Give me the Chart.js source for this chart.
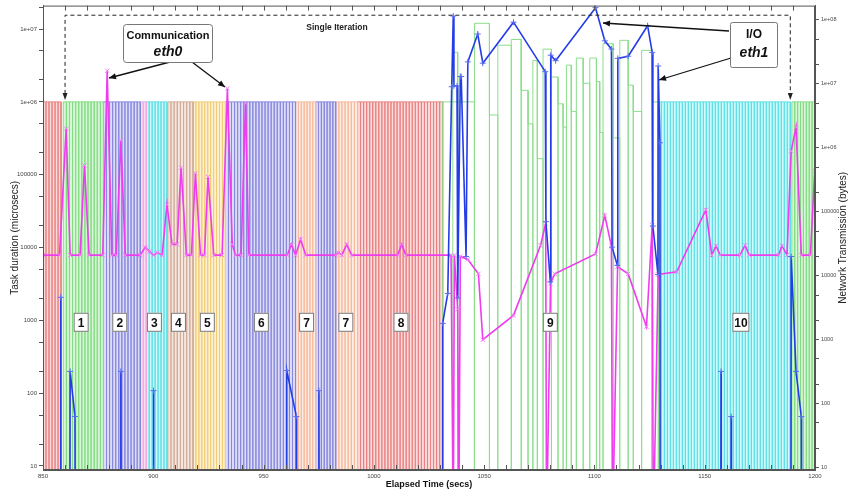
<!DOCTYPE html>
<html>
<head>
<meta charset="utf-8">
<script src="https://cdn.jsdelivr.net/npm/chart.js@4.4.1/dist/chart.umd.min.js"></script>
<style>
html, body { margin: 0; padding: 0; background: #fff; }
</style>
</head>
<body>
<canvas id="myChart" width="849" height="490"></canvas>
<script>
// --- data ---

// regular (non I/O) phases: time span (secs) and number of tasks in it
var phaseStart = [850, 859.2, 877.4, 894.1, 896.8, 906.6, 918, 932.7, 964.5, 973.6, 982.7, 992.6, 1129, 1189.5];
var phaseEnd   = [858.2, 877.4, 894.1, 896.8, 906.2, 918, 932.7, 964.5, 973.6, 982.7, 992.6, 1031.2, 1188.8, 1200];
var phaseTasks = [6, 13, 12, 2, 7, 8, 11, 23, 7, 7, 7, 28, 44, 8];
var phaseKind  = ['red', 'green', 'blue', 'pink', 'cyan', 'tan', 'orange', 'blue', 'peach', 'blue', 'peach', 'red', 'cyan', 'green'];
var taskDuration = 1e6; // microsecs

// I/O phase tasks (secs) and their duration (microsecs)
var ioStart = [1031.2, 1035.8, 1045.6, 1052.4, 1056.2, 1062.3, 1066.8, 1069.9, 1072.1, 1074.1, 1076.7, 1080.5, 1083.5, 1085.8,
               1087.3, 1089.5, 1091.8, 1094.9, 1097.9, 1100.9, 1102.4, 1103.9, 1108.5, 1111.5, 1115.3, 1117.6, 1121.4, 1126.0];
var ioEnd   = [1045.6, 1038.0, 1052.4, 1056.2, 1062.3, 1066.8, 1069.9, 1072.1, 1074.1, 1076.7, 1080.5, 1083.5, 1085.8, 1087.3,
               1089.5, 1091.8, 1094.9, 1097.9, 1100.9, 1102.4, 1103.9, 1108.5, 1111.5, 1115.3, 1117.6, 1121.4, 1126.0, 1129.0];
var ioDuration = [1e6, 4.8e6, 1.2e7, 6.6e5, 6e6, 7.2e6, 1.44e6, 5e5, 3.7e6, 1.66e5, 5.3e6, 2.2e6, 9.4e5, 4.5e5,
                  3.2e6, 7.4e5, 4e6, 1.8e6, 4e6, 1.9e6, 3.8e5, 6.3e6, 3.2e5, 7e6, 1.7e6, 7.4e5, 5.1e6, 1e6];

// network traffic, bytes (1 = nothing sent, below the axis)
var eth0Time = [850, 857.5, 860.5, 862.3, 866.8, 868.8, 870.9, 877.1, 879.1, 881.2, 883.2, 885.3, 887.3, 894.1,
                896.4, 898.2, 900.1, 902, 904, 906.2, 908.5, 910.8, 912.6, 915, 917.3, 919.1, 921.4, 923.2,
                924.8, 927.4, 931.2, 933.6, 935.8, 937.3, 939.8, 941.8, 943.3, 960.8, 962.6, 964.5, 966.8, 969.1,
                982.7, 984, 985.5, 987.7, 989.9, 1010.8, 1012.6, 1014.5, 1035.0, 1036.0, 1036.5, 1038.0, 1038.5, 1039.2,
                1042.6, 1047.4, 1049.4, 1063.3, 1075.6, 1077.9, 1078.3, 1080.1, 1082.0, 1100.5, 1104.7, 1107.7, 1108.2,
                1110.5, 1115.3, 1123.6, 1126.2, 1126.7, 1128.9, 1137.3, 1150.5, 1153.2, 1155.1, 1157.0, 1166.0, 1168.3,
                1170.1, 1183.5, 1185.0, 1187.3, 1189.2, 1191.4, 1193.8, 1197.9, 1199.9, 1201];
var eth0Bytes = [2.1e4, 2.1e4, 2.0e6, 2.1e4, 2.1e4, 5.3e5, 2.1e4, 2.1e4, 1.6e7, 2.1e4, 2.1e4, 1.3e6, 2.1e4, 2.1e4,
                 2.8e4, 2.4e4, 2.1e4, 2.3e4, 2.1e4, 1.3e5, 3.1e4, 3.1e4, 4.9e5, 2.1e4, 2.1e4, 4e5, 2.1e4, 2.1e4,
                 3.5e5, 2.1e4, 2.1e4, 8.5e6, 3.1e4, 2.1e4, 2.1e4, 5e6, 2.1e4, 2.1e4, 3.1e4, 2.1e4, 3.7e4, 2.1e4,
                 2.1e4, 2.3e4, 2.1e4, 3.1e4, 2.1e4, 2.1e4, 3.1e4, 2.1e4, 2.1e4, 1, 2.1e4, 3e3, 1, 2e4,
                 1.8e4, 1.07e4, 1e3, 2.4e3, 3e4, 6.6e4, 1, 7.6e3, 1.07e4, 2.2e4, 8.7e4, 2.9e4, 1,
                 1.38e4, 1.07e4, 1.6e3, 6.2e4, 1, 1.05e4, 1.15e4, 1.07e5, 2.1e4, 2.95e4, 2.1e4, 2.1e4, 3e4,
                 2.1e4, 2.1e4, 2.95e4, 2.1e4, 8.9e5, 2.1e6, 2.1e4, 2.1e4, 4.4e5, 7.8e4];

var eth1Time = [850, 857.9, 858, 858.1, 862.2, 862.3, 864.5, 864.6, 885.2, 885.3, 885.4, 900.0, 900.1, 900.2,
                960.4, 960.5, 964.9, 965.0, 975.0, 975.1, 975.2, 1031.1, 1031.2, 1033.5, 1035.3, 1036.0, 1036.3,
                1037.7, 1038.0, 1039.2, 1039.6, 1041.8, 1042.6, 1047.1, 1049.4, 1063.3, 1077.7, 1078.0, 1080.0,
                1080.2, 1082.4, 1100.5, 1104.7, 1107.7, 1108.0, 1110.4, 1110.6, 1115.3, 1124.1, 1126.2, 1126.5,
                1128.8, 1128.9, 1129.7, 1129.8, 1157.3, 1157.4, 1157.5, 1161.9, 1162, 1162.1, 1189.1, 1189.2,
                1191.4, 1193.8, 1193.9, 1200];
var eth1Bytes = [1, 1, 4600, 1, 1, 320, 63, 1, 1, 320, 1, 1, 160, 1,
                 1, 330, 63, 1, 1, 160, 1, 1, 1800, 5300, 9e6, 1.15e8, 9.3e6,
                 9.3e6, 4.5e3, 1.3e7, 1.3e7, 2e4, 2.2e7, 6e7, 2.1e7, 9.2e7, 1.55e7, 7e4, 8e3,
                 2.8e7, 2.3e7, 1.55e8, 4.7e7, 3.5e7, 2.8e4, 1.45e4, 2.5e7, 2.7e7, 8.1e7, 3.1e7, 6e4,
                 1.05e4, 1.9e7, 1.2e6, 1, 1, 320, 1, 1, 63, 1, 1, 2e4,
                 320, 63, 1, 1];

var leftTickValues  = [10, 20, 50, 100, 200, 500, 1e3, 2e3, 5e3, 1e4, 2e4, 5e4, 1e5, 2e5, 5e5, 1e6, 2e6, 5e6, 1e7, 2e7];
var rightTickValues = [10, 20, 50, 100, 200, 500, 1e3, 2e3, 5e3, 1e4, 2e4, 5e4, 1e5, 2e5, 5e5, 1e6, 2e6, 5e6, 1e7, 2e7, 5e7, 1e8];
var phaseLabels = ['1', '2', '3', '4', '5', '6', '7', '7', '8', '9', '10'];

// --- styles / annotation placement ---
var kindColors = {
    red:    ['rgb(232,130,130)', 'rgb(250,218,218)'],
    green:  ['rgb(130,220,130)', 'rgb(216,246,216)'],
    blue:   ['rgb(135,135,222)', 'rgb(220,220,247)'],
    pink:   ['rgb(240,170,225)', 'rgb(251,222,244)'],
    cyan:   ['rgb(95,222,230)',  'rgb(205,250,250)'],
    tan:    ['rgb(210,172,152)', 'rgb(243,231,223)'],
    orange: ['rgb(242,205,120)', 'rgb(253,241,212)'],
    peach:  ['rgb(246,186,158)', 'rgb(253,236,227)']
};
var labelBoxTimes = [867.3, 884.8, 900.5, 911.4, 924.5, 949, 969.5, 987.3, 1012.3, 1080, 1166.4];
var FLOOR = 1;

function rectPath(starts, ends, heights) {
    var pts = [];
    for (var i = 0; i < starts.length; i++) {
        pts.push({x: starts[i], y: FLOOR}, {x: starts[i], y: heights[i]},
                 {x: ends[i], y: heights[i]}, {x: ends[i], y: FLOOR});
    }
    return pts;
}

var datasets = [];
datasets.push({
    label: 'eth1', yAxisID: 'y2', order: 0,
    data: eth1Time.map(function (t, i) { return {x: t, y: eth1Bytes[i]}; }),
    borderColor: 'rgb(35,60,230)', borderWidth: 1.6,
    pointStyle: 'cross', pointRadius: 3, pointBorderColor: 'rgb(90,110,240)', pointBorderWidth: 1
});
datasets.push({
    label: 'eth0', yAxisID: 'y2', order: 1,
    data: eth0Time.map(function (t, i) { return {x: t, y: eth0Bytes[i]}; }),
    borderColor: 'rgb(238,60,238)', borderWidth: 1.6,
    pointStyle: 'crossRot', pointRadius: 3, pointBorderColor: 'rgb(245,130,245)', pointBorderWidth: 1
});
datasets.push({
    label: 'io tasks', yAxisID: 'y', order: 2,
    data: rectPath(ioStart, ioEnd, ioDuration),
    borderColor: 'rgb(140,222,140)', borderWidth: 1, pointRadius: 0, fill: false
});
phaseStart.forEach(function (s, p) {
    var st = [], en = [], hs = [];
    var step = (phaseEnd[p] - s) / phaseTasks[p];
    for (var k = 0; k < phaseTasks[p]; k++) {
        st.push(s + k * step); en.push(s + (k + 1) * step); hs.push(taskDuration);
    }
    var c = kindColors[phaseKind[p]];
    datasets.push({
        label: 'phase ' + p, yAxisID: 'y', order: 3,
        data: rectPath(st, en, hs),
        borderColor: c[0], backgroundColor: c[1], borderWidth: 1,
        pointRadius: 0, fill: 'start'
    });
});

function decadeLabel(v) {
    var e = Math.round(Math.log10(v));
    if (Math.abs(v - Math.pow(10, e)) > 1e-6 * v) return '';
    return v >= 1e6 ? '1e+0' + e : String(v);
}

function arrow(ctx, x1, y1, x2, y2) {
    ctx.beginPath(); ctx.moveTo(x1, y1); ctx.lineTo(x2, y2); ctx.stroke();
    var a = Math.atan2(y2 - y1, x2 - x1), L = 7, W = 3;
    ctx.beginPath();
    ctx.moveTo(x2, y2);
    ctx.lineTo(x2 - L * Math.cos(a) + W * Math.sin(a), y2 - L * Math.sin(a) - W * Math.cos(a));
    ctx.lineTo(x2 - L * Math.cos(a) - W * Math.sin(a), y2 - L * Math.sin(a) + W * Math.cos(a));
    ctx.closePath(); ctx.fill();
}

function roundBox(ctx, x, y, w, h, r) {
    ctx.beginPath();
    ctx.moveTo(x + r, y); ctx.lineTo(x + w - r, y); ctx.quadraticCurveTo(x + w, y, x + w, y + r);
    ctx.lineTo(x + w, y + h - r); ctx.quadraticCurveTo(x + w, y + h, x + w - r, y + h);
    ctx.lineTo(x + r, y + h); ctx.quadraticCurveTo(x, y + h, x, y + h - r);
    ctx.lineTo(x, y + r); ctx.quadraticCurveTo(x, y, x + r, y);
    ctx.closePath();
}

var annot = {
    id: 'annot',
    afterDraw: function (chart) {
        var ctx = chart.ctx, a = chart.chartArea, x = chart.scales.x, y = chart.scales.y;
        ctx.save();
        // frame + inward time ticks
        ctx.strokeStyle = '#555'; ctx.lineWidth = 1;
        ctx.strokeRect(a.left + 0.5, a.top + 0.5, a.right - a.left - 1, a.bottom - a.top - 1);
        x.ticks.forEach(function (t) {
            var px = Math.round(x.getPixelForValue(t.value)) + 0.5;
            ctx.beginPath();
            ctx.moveTo(px, a.bottom); ctx.lineTo(px, a.bottom - 5);
            ctx.moveTo(px, a.top); ctx.lineTo(px, a.top + 5);
            ctx.stroke();
        });

        // single iteration bracket
        var xl = x.getPixelForValue(860), xr = x.getPixelForValue(1188.8);
        var yt = y.getPixelForValue(1.55e7), yb = y.getPixelForValue(1e6) - 2;
        ctx.strokeStyle = '#222'; ctx.fillStyle = '#222'; ctx.lineWidth = 1;
        ctx.setLineDash([4, 3]);
        ctx.beginPath();
        ctx.moveTo(xl, yb - 6); ctx.lineTo(xl, yt); ctx.lineTo(xr, yt); ctx.lineTo(xr, yb - 6);
        ctx.stroke();
        ctx.setLineDash([]);
        [xl, xr].forEach(function (px) {
            ctx.beginPath(); ctx.moveTo(px, yb); ctx.lineTo(px - 2.5, yb - 7); ctx.lineTo(px + 2.5, yb - 7);
            ctx.closePath(); ctx.fill();
        });
        ctx.font = 'bold 8.5px "Liberation Sans", Arial, sans-serif';
        ctx.textAlign = 'center'; ctx.textBaseline = 'middle';
        ctx.fillText('Single Iteration', 337, 28);

        // phase number boxes
        ctx.font = 'bold 12px "Liberation Sans", Arial, sans-serif';
        labelBoxTimes.forEach(function (t, i) {
            var cx = x.getPixelForValue(t), cy = y.getPixelForValue(940);
            var w = phaseLabels[i].length > 1 ? 17 : 15, h = 19;
            ctx.fillStyle = '#fff'; ctx.strokeStyle = '#777';
            ctx.fillRect(cx - w / 2, cy - h / 2, w, h);
            ctx.strokeRect(cx - w / 2 + 0.5, cy - h / 2 + 0.5, w - 1, h - 1);
            ctx.fillStyle = '#111';
            ctx.fillText(phaseLabels[i], cx, cy + 1);
        });

        // callouts
        ctx.strokeStyle = '#111'; ctx.fillStyle = '#111'; ctx.lineWidth = 1.3;
        arrow(ctx, 170, 62, 109, 78);
        arrow(ctx, 192, 62, 225, 87);
        arrow(ctx, 729, 31, 603, 23);
        arrow(ctx, 731, 58, 659, 80);

        ctx.lineWidth = 1; ctx.strokeStyle = '#777'; ctx.fillStyle = '#fff';
        roundBox(ctx, 123.5, 24.5, 89, 38, 3); ctx.fill(); ctx.stroke();
        roundBox(ctx, 730.5, 22.5, 47, 45, 2); ctx.fill(); ctx.stroke();
        ctx.fillStyle = '#111';
        ctx.font = 'bold 11px "Liberation Sans", Arial, sans-serif';
        ctx.fillText('Communication', 168, 36);
        ctx.font = 'bold 12px "Liberation Sans", Arial, sans-serif';
        ctx.fillText('I/O', 754, 35);
        ctx.font = 'italic bold 14px "Liberation Sans", Arial, sans-serif';
        ctx.fillText('eth0', 168, 52);
        ctx.fillText('eth1', 754, 53);

        // right axis title (reads bottom to top)
        ctx.save();
        ctx.translate(843, (a.top + a.bottom) / 2);
        ctx.rotate(-Math.PI / 2);
        ctx.font = '10px "Liberation Sans", Arial, sans-serif';
        ctx.fillStyle = '#222';
        ctx.fillText('Network Transmission (bytes)', 0, 0);
        ctx.restore();
        ctx.restore();
    }
};

var leftFont = {size: 6, family: '"Liberation Sans", Arial, sans-serif'};
var rightFont = {size: 5.5, family: '"Liberation Sans", Arial, sans-serif'};
var ctx = document.getElementById('myChart').getContext('2d');
var myChart = new Chart(ctx, {
    type: 'line',
    data: {datasets: datasets},
    options: {
        responsive: false, animation: false, devicePixelRatio: 1,
        layout: {padding: {top: 5, left: 0, right: 0, bottom: 0}},
        elements: {line: {tension: 0}},
        plugins: {legend: {display: false}, tooltip: {enabled: false}},
        scales: {
            x: {
                type: 'linear', position: 'bottom', min: 850, max: 1200,
                ticks: {
                    stepSize: 10, autoSkip: false, maxRotation: 0, font: leftFont, color: '#444', padding: 3,
                    callback: function (v) { return v % 50 === 0 ? v : ''; }
                },
                grid: {drawOnChartArea: false, drawTicks: false},
                border: {color: '#555'},
                title: {display: true, text: 'Elapsed Time (secs)', color: '#111',
                        font: {size: 9, weight: 'bold', family: '"Liberation Sans", Arial, sans-serif'},
                        padding: {top: 0, bottom: 0}},
                afterFit: function (s) { s.height = 20; }
            },
            y: {
                type: 'logarithmic', position: 'left', min: 8.8, max: 2.1e7,
                afterBuildTicks: function (s) { s.ticks = leftTickValues.map(function (v) { return {value: v}; }); },
                ticks: {autoSkip: false, font: leftFont, color: '#444', padding: 2, callback: decadeLabel},
                grid: {drawOnChartArea: false, tickLength: 4, color: '#555'},
                border: {color: '#555'},
                title: {display: true, text: 'Task duration (microsecs)', color: '#222',
                        font: {size: 10, family: '"Liberation Sans", Arial, sans-serif'},
                        padding: {top: 9, bottom: 0}},
                afterFit: function (s) { s.width = 43; }
            },
            y2: {
                type: 'logarithmic', position: 'right', min: 9.2, max: 1.67e8,
                afterBuildTicks: function (s) { s.ticks = rightTickValues.map(function (v) { return {value: v}; }); },
                ticks: {autoSkip: false, font: rightFont, color: '#444', padding: 2, callback: decadeLabel},
                grid: {drawOnChartArea: false, tickLength: 4, color: '#555'},
                border: {color: '#555'},
                afterFit: function (s) { s.width = 34; }
            }
        }
    },
    plugins: [annot]
});
</script>
</body>
</html>
